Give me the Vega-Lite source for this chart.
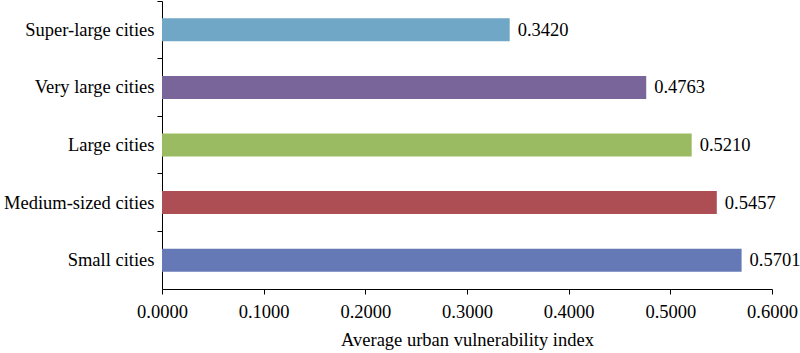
{
  "$schema": "https://vega.github.io/schema/vega-lite/v6.json",
  "autosize": "none",
  "width": 610,
  "height": 288,
  "padding": {"left": 162, "top": 1, "right": 28, "bottom": 64},
  "background": "white",
  "config": {
    "view": {"stroke": null},
    "font": "Liberation Serif",
    "axis": {"labelFont": "Liberation Serif", "titleFont": "Liberation Serif", "labelColor": "black", "titleColor": "black", "domainColor": "black", "tickColor": "black", "grid": false}
  },
  "data": {
    "values": [
      {"category": "Super-large cities", "value": 0.3420},
      {"category": "Very large cities", "value": 0.4763},
      {"category": "Large cities", "value": 0.5210},
      {"category": "Medium-sized cities", "value": 0.5457},
      {"category": "Small cities", "value": 0.5701}
    ]
  },
  "encoding": {
    "y": {
      "field": "category", "type": "nominal",
      "sort": ["Super-large cities", "Very large cities", "Large cities", "Medium-sized cities", "Small cities"],
      "scale": {"paddingInner": 0, "paddingOuter": 0},
      "axis": {"title": null, "bandPosition": 0, "labelFontSize": 18.5, "labelPadding": 3, "tickSize": 5, "domainWidth": 1, "tickWidth": 1}
    },
    "x": {
      "field": "value", "type": "quantitative",
      "scale": {"domain": [0, 0.6], "nice": false},
      "axis": {"title": "Average urban vulnerability index", "values": [0, 0.1, 0.2, 0.3, 0.4, 0.5, 0.6], "format": ".4f", "labelFontSize": 18.5, "titleFontSize": 18.5, "titleFontWeight": "normal", "labelPadding": 8, "titlePadding": 10, "tickSize": 5, "domainWidth": 1, "tickWidth": 1, "labelFlush": false}
    }
  },
  "layer": [
    {
      "mark": {"type": "bar", "height": {"band": 0.4}},
      "encoding": {
        "color": {
          "field": "category", "type": "nominal",
          "scale": {
            "domain": ["Super-large cities", "Very large cities", "Large cities", "Medium-sized cities", "Small cities"],
            "range": ["#70a7c7", "#7a659b", "#9bbb62", "#ac4e54", "#6479b5"]
          },
          "legend": null
        }
      }
    },
    {
      "mark": {"type": "text", "align": "left", "baseline": "middle", "dx": 8, "fontSize": 18.5, "color": "black", "font": "Liberation Serif"},
      "encoding": {
        "text": {"field": "value", "type": "quantitative", "format": ".4f"}
      }
    }
  ]
}
